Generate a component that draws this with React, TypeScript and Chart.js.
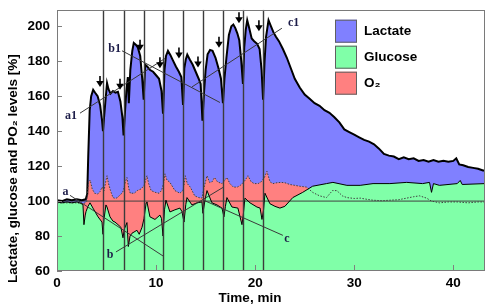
import React, { useEffect, useRef } from "react";
import { Chart, registerables } from "chart.js";

Chart.register(...registerables);

// ---- data ----
const lactateT = [
  0, 0.5, 1, 1.5, 2, 2.5, 2.9, 3.05, 3.15, 3.3, 3.45, 3.65, 3.85, 4.1, 4.35, 4.55, 4.64, 4.75, 4.9, 5.05,
  5.2, 5.4, 5.65, 5.9, 6.15, 6.4, 6.6, 6.72, 6.85, 7.0, 7.15, 7.25, 7.4, 7.6, 7.75, 7.95, 8.15, 8.4, 8.6, 8.75,
  8.9, 9.1, 9.4, 9.7, 10.0, 10.3, 10.55, 10.7, 10.85, 11.0, 11.2, 11.45, 11.7, 12.0, 12.3, 12.55, 12.72, 12.85, 13.0, 13.15,
  13.4, 13.7, 14.0, 14.3, 14.5, 14.68, 14.85, 15.0, 15.2, 15.45, 15.7, 16.0, 16.3, 16.55, 16.75, 16.9, 17.1, 17.35, 17.6, 17.8,
  18.0, 18.2, 18.4, 18.6, 18.77, 18.9, 19.05, 19.2, 19.4, 19.65, 19.9, 20.2, 20.45, 20.65, 20.8, 20.95, 21.1, 21.35, 21.6, 21.85,
  22.1, 22.4, 22.8, 23.2, 23.6, 24.0, 24.5, 25.0, 25.5, 26.0, 26.5, 27.0, 27.5, 28.0, 28.5, 29.0, 29.5, 30.0, 30.5, 31.0,
  31.5, 32.0, 32.5, 33.0, 33.5, 34.0, 34.5, 35.0, 35.5, 36.0, 36.5, 37.0, 37.5, 38.0, 38.5, 39.0, 39.5, 40.0, 40.3, 40.6,
  41.0, 41.5, 42.0, 42.5, 43.0, 43.2,
];
const lactateV = [
  100.5, 100, 101, 100.5, 101, 100.5, 101, 104, 125, 152, 160, 163.7, 162, 160, 155, 146, 140, 148, 158, 167.5,
  164, 161.5, 163, 162, 162.5, 157, 148, 137.5, 150, 163, 171, 156, 175, 186, 190.5, 189.5, 188, 183, 170, 158,
  178, 177, 175, 174, 172, 170, 163, 150, 175, 183, 186, 183.5, 180.5, 177, 174, 171, 155, 176, 181, 183.8,
  181, 178, 174, 170, 167, 146, 163, 175, 184, 186.5, 186, 182, 176, 170, 156, 170, 182, 195, 200, 201,
  199, 196, 192, 180, 167, 188, 198, 203.5, 199, 193, 191.5, 190, 187, 175, 158, 180, 194, 203.5, 200, 196.5,
  194, 191.5, 187, 182, 176, 170, 165, 161, 158.5, 156, 154.5, 152, 150.5, 148, 145, 141, 139.5, 138, 136.5, 135,
  134, 132.5, 130, 127, 126, 125.5, 124, 125, 124, 124.5, 123, 123.5, 122.5, 123.5, 122.5, 123, 122.5, 123, 124.5, 121,
  120.5, 119.5, 119, 118.5, 117.5, 117.5,
];

const o2T = [
  0, 1, 2, 2.6, 2.85, 3.0, 3.1, 3.2, 3.35, 3.55, 3.8, 4.1, 4.35, 4.55, 4.75, 4.95, 5.05, 5.2, 5.4, 5.65,
  5.9, 6.1, 6.35, 6.56, 6.7, 6.9, 7.06, 7.25, 7.4, 7.8, 8.1, 8.5, 8.8, 8.95, 9.08, 9.25, 9.5, 9.9, 10.3, 10.55,
  10.75, 10.9, 11.1, 11.4, 11.9, 12.4, 12.7, 12.85, 12.95, 13.15, 13.45, 13.9, 14.3, 14.63, 14.85, 15.14, 15.4, 15.65, 15.9, 16.2,
  16.65, 16.95, 17.15, 17.45, 17.8, 18.2, 18.5, 18.7, 19.0, 19.27, 19.6, 19.9, 20.3, 20.6, 20.9, 21.19, 21.5, 21.8, 22.2, 22.6,
  23.0, 23.5, 24.0, 24.5, 25.2, 25.8, 26.5, 27.2, 27.8, 28.25, 28.8, 29.26, 30.0, 30.6, 31.3, 31.9, 32.8, 33.6, 34.5, 35.3,
  36.0, 36.6, 37.3, 37.8, 38.6, 39.5, 40.4, 41.5, 42.5, 43.2,
];
const o2V = [
  99, 99, 99, 98.5, 99, 100, 106, 111, 112, 107, 104.5, 104, 105.5, 108, 106, 112, 114.5, 110, 106, 102,
  101.5, 102, 103.5, 104.5, 106, 111, 113.5, 107, 104.5, 104.5, 106, 107, 109, 112, 114.5, 110, 106, 105, 104.5, 106,
  110, 115.6, 112, 110.7, 106, 104.5, 106, 110, 114.5, 110, 108, 103, 102, 101.7, 108, 114.5, 110.7, 111, 113.5, 111,
  110, 112, 113.5, 110, 108, 108, 109, 110, 112, 114.5, 111, 110, 110, 111, 113, 117, 111, 110, 110.5, 110.7,
  110.5, 109.5, 109, 108.5, 108, 105, 103, 102, 106, 106, 103, 102, 101.5, 101.7, 101, 100.5, 100.2, 100.5, 100.8, 101.7,
  102.5, 103, 101.7, 100, 99, 99.5, 99.5, 99, 99.5, 99.5,
];

const glucoseT = [
  0, 0.5, 1, 1.5, 2, 2.3, 2.62, 2.72, 2.85, 2.93, 3.13, 3.33, 3.63, 4.14, 4.54, 4.64, 4.75, 4.94, 5.05, 5.35,
  5.65, 5.85, 6.16, 6.45, 6.66, 6.8, 7.06, 7.2, 7.37, 7.57, 8.07, 8.3, 8.58, 8.78, 9.0, 9.08, 9.38, 9.89, 10.39, 10.55,
  10.7, 10.85, 11.0, 11.4, 11.9, 12.41, 12.61, 12.82, 13.0, 13.12, 13.62, 14.13, 14.63, 14.73, 14.95, 15.14, 15.64, 16.15, 16.65, 16.85,
  17.0, 17.15, 17.66, 18.26, 18.67, 18.8, 18.97, 19.48, 20.18, 20.5, 20.69, 20.85, 20.99, 21.49, 22.0, 22.5, 23.0, 23.8, 24.8, 25.8,
  27.2, 27.85, 29.26, 30.6, 31.9, 33.6, 35.3, 36.9, 37.6, 37.8, 38.0, 38.6, 40.4, 40.7, 40.9, 43.2,
];
const glucoseV = [
  99.5, 99, 99.5, 99, 99.5, 99, 98, 86.5, 92, 94, 97, 99, 96, 91, 88, 81, 90, 97.8, 96.6, 91,
  88.5, 88, 86.5, 85, 79, 84, 87.7, 74, 80, 81.6, 83.3, 81, 85, 90, 99, 99.5, 91, 89.5, 92, 90,
  80, 95, 100.5, 93.8, 95, 96, 94, 88, 98, 102, 97.8, 99, 99.5, 93, 101, 106, 99, 97.8, 96, 91,
  97, 102, 96.6, 96, 86.5, 92, 101.7, 99, 96.6, 96, 89.5, 95, 104.5, 98.5, 97, 96, 97, 102, 105, 108.5,
  110, 110.7, 109, 109, 110, 110, 110.7, 110, 110.7, 105, 110, 109, 110, 111.8, 109.5, 110,
];

const seriesLabels = ["Lactate", "Glucose", "O\u2082"];
const eventTimes = [4.64, 6.76, 8.78, 10.7, 12.72, 14.73, 16.75, 18.77, 20.79];
const arrowT = [4.34, 6.36, 8.38, 10.39, 12.31, 14.23, 16.35, 18.37, 20.38];
const arrowV = [165.3, 163.7, 186, 176, 181.6, 176.5, 187.7, 201.7, 197.2];
const refLevel = [100];
const xTickValues = [0, 10, 20, 30, 40];
const yTickValues = [60, 80, 100, 120, 140, 160, 180, 200];
// guide lines: [x1, y1, x2, y2]
const guideLines = [
  [2.32, 150.3, 10.9, 181.6],
  [13.62, 165.3, 22.7, 198.9],
  [6.56, 186, 16.45, 156.4],
  [1.31, 103.3, 10.7, 68.6],
  [5.95, 70.9, 16.75, 107.8],
  [22.8, 80.4, 14.8, 100.5],
];
const guideLabelText = ["a1", "b1", "c1", "a", "b", "c"];
const guideLabelX = [2.02, 6.46, 23.31, 0.86, 5.35, 23.2];
const guideLabelY = [148.6, 187.1, 202.2, 105, 69.2, 78.1];
const guideLabelAlign = ["right", "right", "left", "center", "center", "center"];

const BLUE = "rgb(128,128,255)";
const GREEN = "rgb(128,255,168)";
const RED = "rgb(255,128,128)";
const SANS = "'Liberation Sans', Arial, sans-serif";

const pts = (t: number[], v: number[]) => t.map((x, i) => ({ x, y: v[i] }));

const overlay = {
  id: "overlay",
  afterDatasetsDraw(chart: any) {
    const { ctx, chartArea: a, scales } = chart;
    const xs = scales.x, ys = scales.y;
    ctx.save();
    ctx.beginPath();
    ctx.rect(a.left, a.top, a.right - a.left, a.bottom - a.top);
    ctx.clip();
    // event lines
    ctx.strokeStyle = "#3c3c3c";
    ctx.lineWidth = 1.4;
    eventTimes.forEach((t) => {
      const px = Math.round(xs.getPixelForValue(t)) + 0.5;
      ctx.beginPath();
      ctx.moveTo(px, a.top);
      ctx.lineTo(px, a.bottom);
      ctx.stroke();
    });
    // guide lines
    ctx.strokeStyle = "#3a3a3a";
    ctx.lineWidth = 1;
    guideLines.forEach((g) => {
      ctx.beginPath();
      ctx.moveTo(xs.getPixelForValue(g[0]), ys.getPixelForValue(g[1]));
      ctx.lineTo(xs.getPixelForValue(g[2]), ys.getPixelForValue(g[3]));
      ctx.stroke();
    });
    // arrows
    ctx.fillStyle = "#000";
    ctx.strokeStyle = "#000";
    arrowT.forEach((t, i) => {
      const px = xs.getPixelForValue(t);
      const py = ys.getPixelForValue(arrowV[i]);
      ctx.lineWidth = 1.6;
      ctx.beginPath();
      ctx.moveTo(px, py - 11);
      ctx.lineTo(px, py - 5);
      ctx.stroke();
      ctx.beginPath();
      ctx.moveTo(px - 3.8, py - 6);
      ctx.lineTo(px + 3.8, py - 6);
      ctx.lineTo(px, py);
      ctx.closePath();
      ctx.fill();
    });
    ctx.restore();

    ctx.save();
    // labels
    ctx.font = "bold 12px 'Liberation Serif', 'Times New Roman', serif";
    ctx.fillStyle = "#1c1c48";
    ctx.textBaseline = "middle";
    guideLabelText.forEach((s, i) => {
      ctx.textAlign = guideLabelAlign[i];
      ctx.fillText(s, xs.getPixelForValue(guideLabelX[i]), ys.getPixelForValue(guideLabelY[i]));
    });
    // inner ticks
    ctx.strokeStyle = "#808080";
    ctx.lineWidth = 1;
    xTickValues.forEach((v) => {
      const px = Math.round(xs.getPixelForValue(v)) + 0.5;
      ctx.beginPath();
      ctx.moveTo(px, a.bottom);
      ctx.lineTo(px, a.bottom - 6);
      ctx.stroke();
    });
    yTickValues.forEach((v) => {
      const py = Math.round(ys.getPixelForValue(v)) + 0.5;
      ctx.beginPath();
      ctx.moveTo(a.left, py);
      ctx.lineTo(a.left + 5, py);
      ctx.stroke();
    });
    // frame
    ctx.strokeStyle = "#7a7a7a";
    ctx.strokeRect(Math.round(a.left) + 0.5, Math.round(a.top) + 0.5, Math.round(a.right - a.left) - 1, Math.round(a.bottom - a.top) - 1);
    // legend
    const ds = chart.data.datasets;
    const order = [2, 0, 1];
    const lx = a.left + 278;
    const ly = a.top + 10;
    ctx.font = `bold 13.5px ${SANS}`;
    ctx.textAlign = "left";
    ctx.textBaseline = "middle";
    order.forEach((di, i) => {
      const y = ly + i * 26;
      ctx.fillStyle = ds[di].backgroundColor;
      ctx.fillRect(lx, y, 22, 23);
      ctx.strokeStyle = "#606060";
      ctx.lineWidth = 1;
      ctx.strokeRect(lx + 0.5, y + 0.5, 21, 22);
      ctx.fillStyle = "#000";
      ctx.fillText(ds[di].label, lx + 29, y + 12);
    });
    ctx.restore();
  },
  afterDraw(chart: any) {
    const { ctx, chartArea: a } = chart;
    ctx.save();
    ctx.fillStyle = "#000";
    ctx.font = `bold 13.5px ${SANS}`;
    ctx.textAlign = "center";
    ctx.textBaseline = "middle";
    ctx.fillText("Time, min", a.left + 193, a.bottom + 27);
    ctx.translate(13, a.top + 159);
    ctx.rotate(-Math.PI / 2);
    ctx.fillText("Lactate, glucose and PO\u2082 levels [%]", 0, 0);
    ctx.restore();
  },
};

export default function App() {
  const ref = useRef<HTMLCanvasElement>(null);
  useEffect(() => {
    const chart = new Chart(ref.current!, {
      type: "line",
      data: {
        datasets: [
          { label: seriesLabels[1], data: pts(glucoseT, glucoseV), borderColor: "#000", borderWidth: 1, backgroundColor: GREEN, fill: "start", pointRadius: 0, tension: 0 },
          { label: seriesLabels[2], data: pts(o2T, o2V), borderColor: "#404040", borderWidth: 1, borderDash: [1.5, 1.5], backgroundColor: RED, fill: "start", pointRadius: 0, tension: 0 },
          { label: seriesLabels[0], data: pts(lactateT, lactateV), borderColor: "#000", borderWidth: 2, backgroundColor: BLUE, fill: "start", pointRadius: 0, tension: 0 },
          { label: "ref", data: [{ x: 0, y: refLevel[0] }, { x: 43.2, y: refLevel[0] }], borderColor: "#404040", borderWidth: 1, fill: false, pointRadius: 0 },
        ],
      },
      options: {
        responsive: false,
        animation: false,
        events: [],
        layout: { padding: { left: 0, top: 3, right: 5, bottom: 0 } },
        plugins: {
          legend: { display: false },
          tooltip: { enabled: false },
          filler: { drawTime: "beforeDatasetsDraw" },
        },
        scales: {
          x: {
            type: "linear",
            min: 0,
            max: 43.2,
            afterBuildTicks: (s: any) => { s.ticks = xTickValues.map((value) => ({ value })); },
            afterFit: (s: any) => { s.height = 36; },
            grid: { display: false, drawTicks: false },
            border: { display: false },
            ticks: { padding: 4, color: "#000", maxRotation: 0, autoSkip: false, font: { family: SANS, size: 13.5, weight: "bold" } },
          },
          y: {
            type: "linear",
            min: 60,
            max: 209.5,
            afterBuildTicks: (s: any) => { s.ticks = yTickValues.map((value) => ({ value })); },
            afterFit: (s: any) => { s.width = 57; },
            grid: { display: false, drawTicks: false },
            border: { display: false },
            ticks: { padding: 7, color: "#000", autoSkip: false, font: { family: SANS, size: 13.5, weight: "bold", lineHeight: 0.4 } },
          },
        },
      },
      plugins: [overlay],
    } as any);
    return () => chart.destroy();
  }, []);
  return (
    <div style={{ position: "fixed", left: 0, top: 0, width: 490, height: 307, background: "#fff" }}>
      <canvas ref={ref} width={490} height={307} style={{ display: "block" }} />
    </div>
  );
}
